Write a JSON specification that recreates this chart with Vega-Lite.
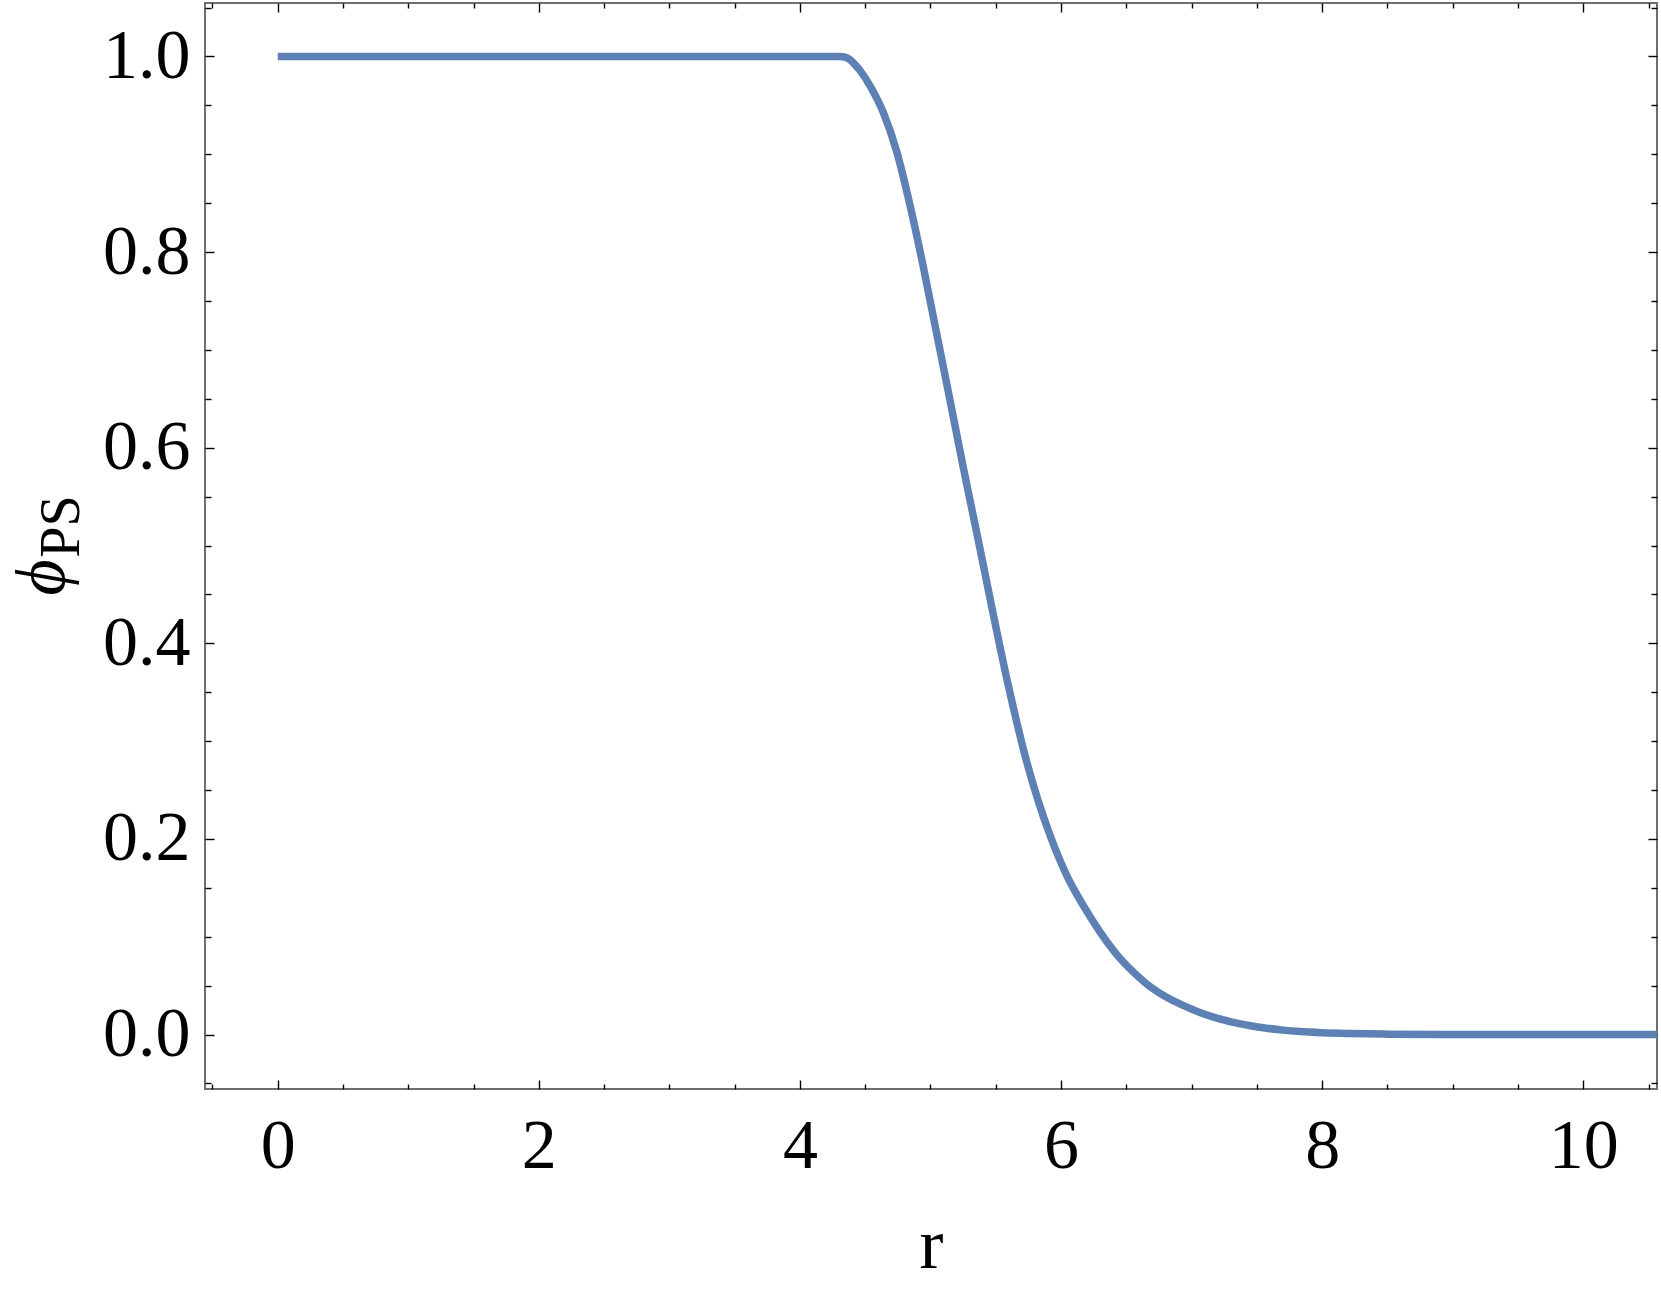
{
  "$schema": "https://vega.github.io/schema/vega-lite/v6.json",
  "width": 1452,
  "height": 1086,
  "autosize": "none",
  "padding": {"left": 205, "top": 3, "right": 4, "bottom": 200},
  "background": "white",
  "config": {
    "view": {"stroke": "#6e6e6e", "strokeWidth": 2},
    "axis": {
      "domain": false,
      "grid": false,
      "tickColor": "#000000",
      "tickWidth": 1.4,
      "labelFont": "Liberation Serif",
      "labelFontSize": 70,
      "labelColor": "#000000",
      "titleFont": "Liberation Serif",
      "titleColor": "#000000",
      "titleFontWeight": "normal",
      "labelFlush": false,
      "labelOverlap": false
    }
  },
  "data": {
    "values": [
      {"r": 0, "phi": 1},
      {"r": 4.3, "phi": 1},
      {"r": 4.34, "phi": 0.9995},
      {"r": 4.38, "phi": 0.997},
      {"r": 4.42, "phi": 0.992},
      {"r": 4.47, "phi": 0.984},
      {"r": 4.537, "phi": 0.97},
      {"r": 4.638, "phi": 0.943},
      {"r": 4.741, "phi": 0.903},
      {"r": 4.843, "phi": 0.848},
      {"r": 4.945, "phi": 0.785},
      {"r": 5.047, "phi": 0.717},
      {"r": 5.149, "phi": 0.649},
      {"r": 5.251, "phi": 0.58},
      {"r": 5.379, "phi": 0.497},
      {"r": 5.456, "phi": 0.446},
      {"r": 5.596, "phi": 0.357},
      {"r": 5.737, "phi": 0.279},
      {"r": 5.915, "phi": 0.204},
      {"r": 6.05, "phi": 0.161},
      {"r": 6.17, "phi": 0.132},
      {"r": 6.298, "phi": 0.105},
      {"r": 6.426, "phi": 0.082},
      {"r": 6.553, "phi": 0.064},
      {"r": 6.681, "phi": 0.049},
      {"r": 6.809, "phi": 0.038},
      {"r": 6.94, "phi": 0.0295},
      {"r": 7.064, "phi": 0.0225},
      {"r": 7.2, "phi": 0.0165},
      {"r": 7.32, "phi": 0.0125},
      {"r": 7.45, "phi": 0.009},
      {"r": 7.575, "phi": 0.0065},
      {"r": 7.7, "phi": 0.0045},
      {"r": 7.83, "phi": 0.003},
      {"r": 8.0, "phi": 0.0018},
      {"r": 8.2, "phi": 0.001},
      {"r": 8.5, "phi": 0.0004},
      {"r": 8.9, "phi": 0.0001},
      {"r": 9.5, "phi": 0},
      {"r": 10.565, "phi": 0}
    ]
  },
  "layer": [
    {
      "mark": {"type": "line", "color": "#5E81B5", "strokeWidth": 7.5, "interpolate": "monotone", "clip": true},
      "encoding": {
        "x": {
          "field": "r", "type": "quantitative",
          "scale": {"domain": [-0.557, 10.565], "nice": false, "zero": false},
          "axis": {
            "orient": "bottom",
            "values": [0, 2, 4, 6, 8, 10],
            "format": "d",
            "tickSize": -9,
            "labelPadding": 32,
            "title": "r",
            "titleFontSize": 72,
            "titleBaseline": "alphabetic",
            "titleAlign": "center",
            "titleX": 726,
            "titleY": 178
          }
        },
        "y": {
          "field": "phi", "type": "quantitative",
          "scale": {"domain": [-0.0557, 1.0547], "nice": false, "zero": false},
          "axis": {
            "orient": "left",
            "values": [0, 0.2, 0.4, 0.6, 0.8, 1.0],
            "format": ".1f",
            "tickSize": -9,
            "labelPadding": 24,
            "title": "ϕ",
            "titleFontStyle": "italic",
            "titleFontSize": 70,
            "titleAngle": -90,
            "titleBaseline": "alphabetic",
            "titleAlign": "center",
            "titleX": -142,
            "titleY": 574
          }
        }
      }
    },
    {
      "mark": {"type": "line", "opacity": 0},
      "encoding": {
        "x": {
          "field": "r", "type": "quantitative",
          "axis": {
            "orient": "bottom",
            "values": [-0.5, 0.5, 1, 1.5, 2.5, 3, 3.5, 4.5, 5, 5.5, 6.5, 7, 7.5, 8.5, 9, 9.5, 10.5],
            "tickSize": -5,
            "labels": false,
            "title": null
          }
        },
        "y": {
          "field": "phi", "type": "quantitative",
          "axis": {
            "orient": "left",
            "values": [-0.05, 0.05, 0.1, 0.15, 0.25, 0.3, 0.35, 0.45, 0.5, 0.55, 0.65, 0.7, 0.75, 0.85, 0.9, 0.95, 1.05],
            "tickSize": -6,
            "labels": false,
            "title": "PS",
            "titleFontSize": 56,
            "titleAngle": -90,
            "titleBaseline": "alphabetic",
            "titleAlign": "center",
            "titleX": -127,
            "titleY": 523
          }
        }
      }
    },
    {
      "mark": {"type": "line", "opacity": 0},
      "encoding": {
        "x": {
          "field": "r", "type": "quantitative",
          "axis": {"orient": "top", "values": [0, 2, 4, 6, 8, 10], "tickSize": -9, "labels": false, "title": null}
        },
        "y": {
          "field": "phi", "type": "quantitative",
          "axis": {"orient": "right", "values": [0, 0.2, 0.4, 0.6, 0.8, 1.0], "tickSize": -9, "labels": false, "title": null}
        }
      }
    },
    {
      "mark": {"type": "line", "opacity": 0},
      "encoding": {
        "x": {
          "field": "r", "type": "quantitative",
          "axis": {
            "orient": "top",
            "values": [-0.5, 0.5, 1, 1.5, 2.5, 3, 3.5, 4.5, 5, 5.5, 6.5, 7, 7.5, 8.5, 9, 9.5, 10.5],
            "tickSize": -5, "labels": false, "title": null
          }
        },
        "y": {
          "field": "phi", "type": "quantitative",
          "axis": {
            "orient": "right",
            "values": [-0.05, 0.05, 0.1, 0.15, 0.25, 0.3, 0.35, 0.45, 0.5, 0.55, 0.65, 0.7, 0.75, 0.85, 0.9, 0.95, 1.05],
            "tickSize": -6, "labels": false, "title": null
          }
        }
      }
    }
  ],
  "resolve": {"axis": {"x": "independent", "y": "independent"}}
}
